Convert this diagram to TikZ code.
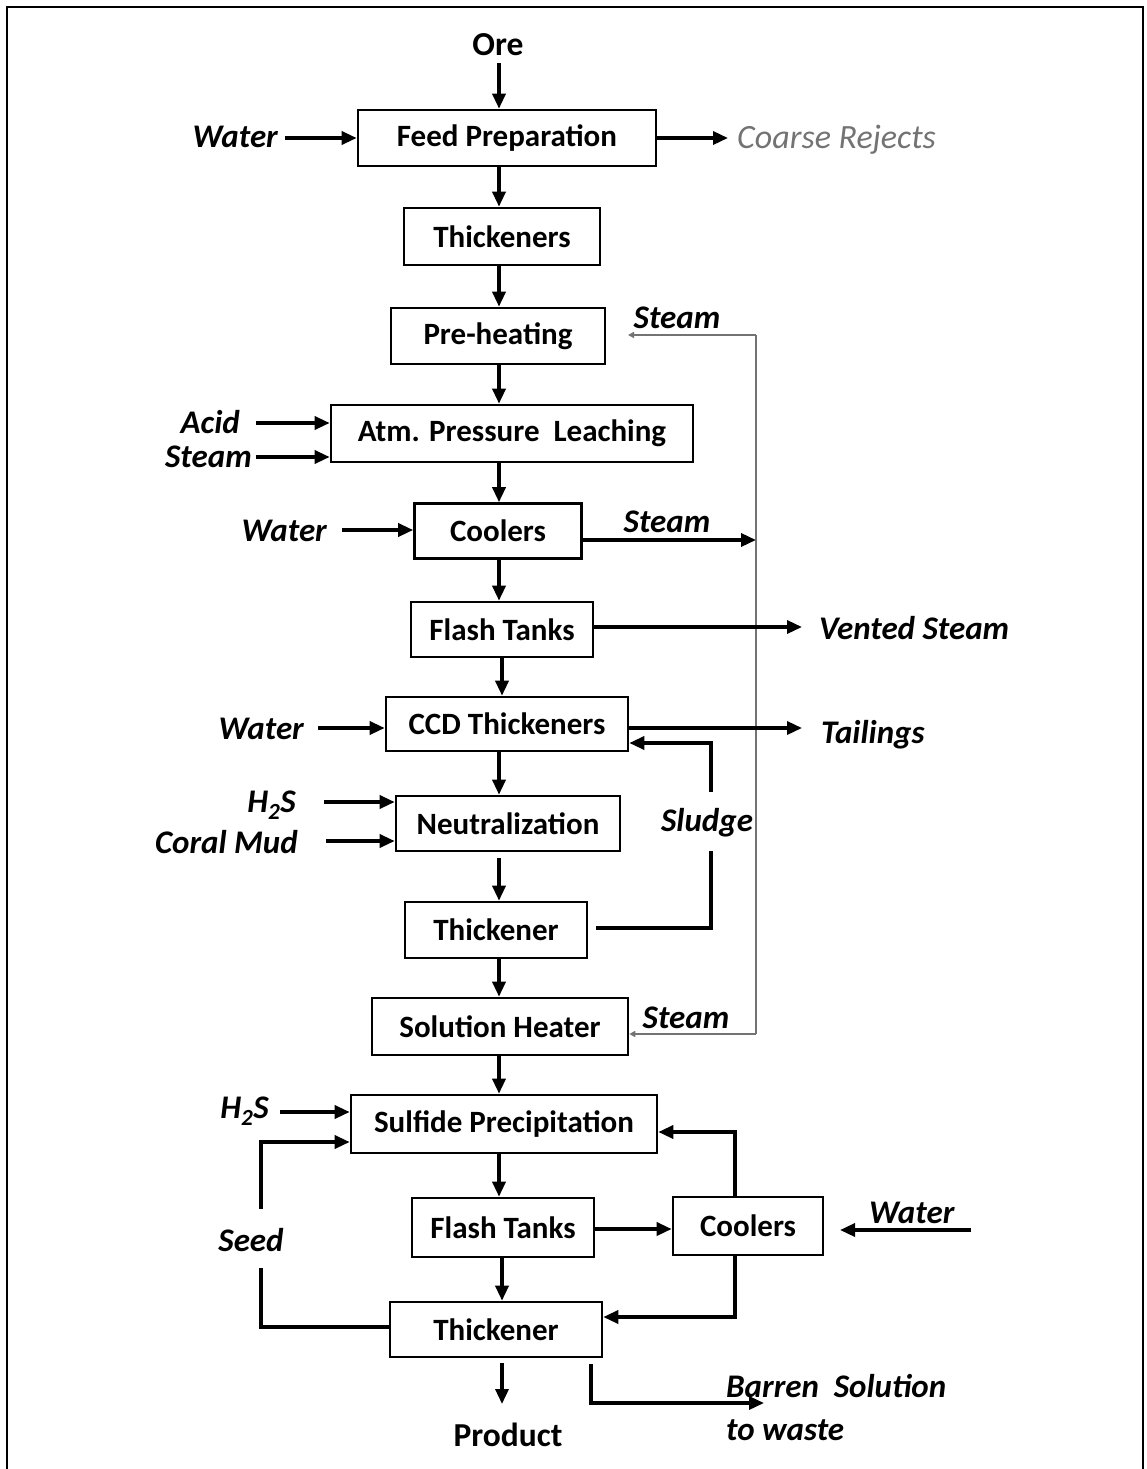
\documentclass[tikz,border=0pt]{standalone}
\usepackage{fontspec}
\setmainfont{Carlito}
\usetikzlibrary{arrows.meta}
\begin{document}
\begin{tikzpicture}[x=1pt,y=-1pt,
  every node/.style={font=\fontsize{31}{36}\selectfont\bfseries},
  box/.style={draw, line width=2.6pt, inner sep=0pt},
  term/.style={font=\fontsize{33.5}{38}\selectfont\bfseries},
  lab/.style={font=\fontsize{33}{38}\selectfont\bfseries\itshape, inner sep=0pt},
  thickline/.style={line width=3.4pt},
  flow/.style={line width=3.4pt, -{Triangle[length=15pt,width=13pt]}},
  steam/.style={draw=black!55, line width=1.5pt},
  steamflow/.style={steam, -{Triangle[length=6pt,width=6pt]}}]

\useasboundingbox (0,0) rectangle (1147,1469);
% outer frame, open at the foot
\draw[line width=2pt] (7,1469) -- (7,7) -- (1143,7) -- (1143,1469);

% process units
\node[term] (ore) at (498,45) {Ore};
\node[box, minimum width=298pt, minimum height=56pt] (fp)  at (507,138)    {Feed Preparation};
\node[box, minimum width=196pt, minimum height=57pt] (th1) at (502,236.5)  {Thickeners};
\node[box, minimum width=214pt, minimum height=56pt] (ph)  at (498,336)    {Pre-heating};
\node[box, minimum width=362pt, minimum height=57pt] (apl) at (512,433.5)  {Atm. Pressure\ \ Leaching};
\node[box, minimum width=167pt, minimum height=55pt] (co1) at (498,531)    {Coolers};
\node[box, minimum width=182pt, minimum height=55pt] (ft1) at (502,629.5)  {Flash Tanks};
\node[box, minimum width=242pt, minimum height=54pt] (ccd) at (507,724)    {CCD Thickeners};
\node[box, minimum width=224pt, minimum height=55pt] (neu) at (508,823.5)  {Neutralization};
\node[box, minimum width=182pt, minimum height=56pt] (th2) at (496,930)    {Thickener};
\node[box, minimum width=256pt, minimum height=57pt] (sh)  at (500,1026.5) {Solution Heater};
\node[box, minimum width=306pt, minimum height=58pt] (sp)  at (504,1124)   {Sulfide Precipitation};
\node[box, minimum width=182pt, minimum height=59pt] (ft2) at (503,1227.5) {Flash Tanks};
\node[box, minimum width=150pt, minimum height=58pt] (co2) at (748,1226)   {Coolers};
\node[box, minimum width=212pt, minimum height=55pt] (th3) at (496,1329.5) {Thickener};
\node[term] (prod) at (508,1435) {Product};

% stream labels
\node[lab, anchor=east] (wfp) at (278,137) {Water};
\node[lab, anchor=west, text=black!55, font=\fontsize{34}{38}\selectfont\itshape] (cr) at (737,140) {Coarse Rejects};
\node[lab] (stm1) at (677,318) {Steam};
\node[lab, anchor=east] (acid) at (240,422) {Acid};
\node[lab, anchor=east] (stm2) at (252,457) {Steam};
\node[lab, anchor=east] (wco) at (327,531) {Water};
\node[lab] (stm3) at (667,522) {Steam};
\node[lab, anchor=west] (vs) at (819,628) {Vented Steam};
\node[lab, anchor=east] (wccd) at (304,729) {Water};
\node[lab, anchor=west] (tail) at (821,735) {Tailings};
\node[lab, anchor=east] (h2sa) at (296,805) {H\textsubscript{2}S};
\node[lab, anchor=east] (coral) at (298,842) {Coral Mud};
\node[lab] (sludge) at (707,823) {Sludge};
\node[lab] (stm4) at (686,1018) {Steam};
\node[lab, anchor=east] (h2sb) at (269,1111) {H\textsubscript{2}S};
\node[lab] (seed) at (251,1240) {Seed};
\node[lab, anchor=west] (wco2) at (869,1213) {Water};
\node[lab, anchor=west] (barren) at (726,1386) {Barren\ \ Solution};
\node[lab, anchor=west] (waste) at (726,1430) {to waste};

% connector points
\coordinate (sx)  at (499,0);
\coordinate (sx2) at (502,0);
\coordinate (oreA) at (499,63);
\coordinate (crEnd) at (728,138);
\coordinate (stmTop) at (756,335);
\coordinate (stmJoin) at (756,540);
\coordinate (stmBot) at (756,1034);
\coordinate (phIn) at (628,335);
\coordinate (wfpA) at (285,138);
\coordinate (acidA) at (256,423);
\coordinate (stm2A) at (256,457);
\coordinate (wcoA) at (342,530);
\coordinate (vsEnd) at (802,627);
\coordinate (wccdA) at (318,728);
\coordinate (tailEnd) at (802,728);
\coordinate (h2saA) at (324,802);
\coordinate (coralA) at (326,841);
\coordinate (neuOut) at (499,858);
\coordinate (slA) at (596,928);
\coordinate (slB) at (711,928);
\coordinate (slC) at (711,851);
\coordinate (slD) at (711,792);
\coordinate (slE) at (711,743);
\coordinate (h2sbA) at (280,1112);
\coordinate (sdA) at (261,1327);
\coordinate (sdB) at (261,1268);
\coordinate (sdC) at (261,1209);
\coordinate (sdD) at (261,1142);
\coordinate (fcY) at (0,1229);
\coordinate (w2A) at (971,1230);
\coordinate (w2B) at (840,1230);
\coordinate (csA) at (735,1132);
\coordinate (ctA) at (735,1317);
\coordinate (th3Out) at (502,1363);
\coordinate (prodIn) at (502,1404);
\coordinate (bA) at (591,1364);
\coordinate (bB) at (591,1403);
\coordinate (bC) at (764,1403);

% steam recycle header
\draw[steam] (stmTop) -- (stmBot);
\draw[steamflow] (stmTop) -- (phIn);
\draw[steamflow] (stmBot) -- (stmBot -| sh.east);

% main train
\draw[flow] (oreA) -- (fp.north -| oreA);
\draw[flow] (fp.south -| sx) -- (th1.north -| sx);
\draw[flow] (th1.south -| sx) -- (ph.north -| sx);
\draw[flow] (ph.south -| sx) -- (apl.north -| sx);
\draw[flow] (apl.south -| sx) -- (co1.north -| sx);
\draw[flow] (co1.south -| sx) -- (ft1.north -| sx);
\draw[flow] (ft1.south -| sx2) -- (ccd.north -| sx2);
\draw[flow] (ccd.south -| sx) -- (neu.north -| sx);
\draw[flow] (neuOut) -- (th2.north -| neuOut);
\draw[flow] (th2.south -| sx) -- (sh.north -| sx);
\draw[flow] (sh.south -| sx) -- (sp.north -| sx);
\draw[flow] (sp.south -| sx) -- (ft2.north -| sx);
\draw[flow] (ft2.south -| sx2) -- (th3.north -| sx2);
\draw[flow] (th3Out) -- (prodIn);

% side streams
\draw[flow] (wfpA) -- (wfpA -| fp.west);
\draw[flow] (fp.east |- crEnd) -- (crEnd);
\draw[flow] (acidA) -- (acidA -| apl.west);
\draw[flow] (stm2A) -- (stm2A -| apl.west);
\draw[flow] (wcoA) -- (wcoA -| co1.west);
\draw[flow] (co1.east |- stmJoin) -- (stmJoin);
\draw[flow] (ft1.east |- vsEnd) -- (vsEnd);
\draw[flow] (wccdA) -- (wccdA -| ccd.west);
\draw[flow] (ccd.east |- tailEnd) -- (tailEnd);
\draw[flow] (h2saA) -- (h2saA -| neu.west);
\draw[flow] (coralA) -- (coralA -| neu.west);
\draw[thickline] (slA) -- (slB) -- (slC);
\draw[flow] (slD) -- (slE) -- (slE -| ccd.east);

% sulfide precipitation circuit
\draw[flow] (h2sbA) -- (h2sbA -| sp.west);
\draw[thickline] (sdA -| th3.west) -- (sdA) -- (sdB);
\draw[flow] (sdC) -- (sdD) -- (sdD -| sp.west);
\draw[flow] (ft2.east |- fcY) -- (co2.west |- fcY);
\draw[flow] (w2A) -- (w2B);
\draw[flow] (co2.north -| csA) -- (csA) -- (csA -| sp.east);
\draw[flow] (co2.south -| ctA) -- (ctA) -- (ctA -| th3.east);
\draw[flow] (bA) -- (bB) -- (bC);
\end{tikzpicture}
\end{document}
